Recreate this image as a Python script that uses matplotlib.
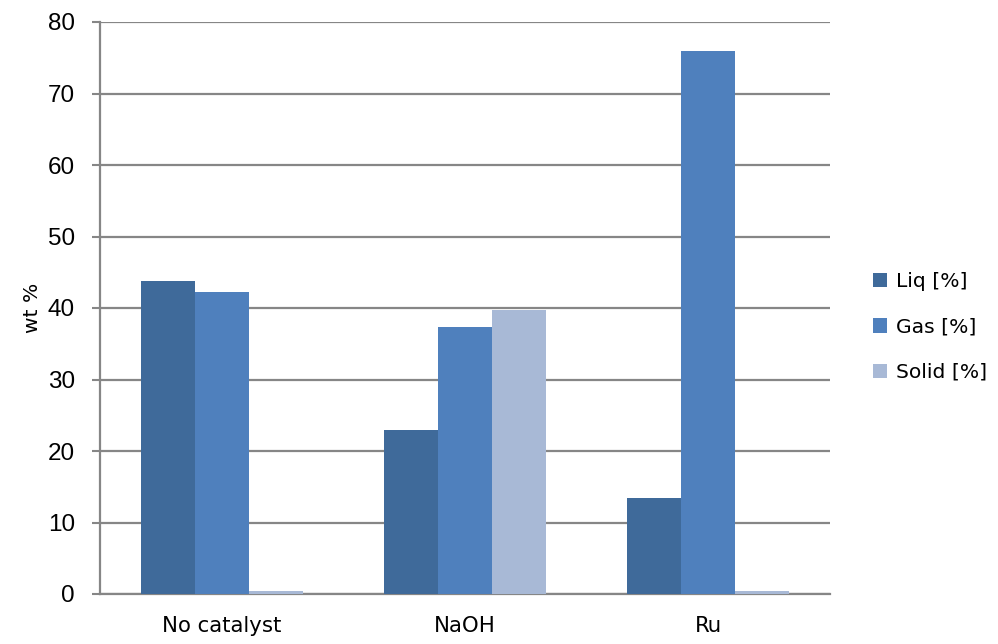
import matplotlib
matplotlib.use("Agg")
import matplotlib.pyplot as plt
import numpy as np

categories = ["No catalyst", "NaOH", "Ru"]
series_names = ["Liq [%]", "Gas [%]", "Solid [%]"]
liq = [43.8, 22.9, 13.4]
gas = [42.2, 37.3, 76.0]
solid = [0.4, 39.7, 0.4]
y_ticks = [0, 10, 20, 30, 40, 50, 60, 70, 80]

colors = ["#3F6A9A", "#4F80BD", "#A8B9D6"]
grid_color = "#868686"

narrow = ["Liberation Sans Narrow", "Liberation Sans", "DejaVu Sans"]
body = ["DejaVu Sans"]

fig = plt.figure(figsize=(9.98, 6.44), dpi=100)
ax = fig.add_axes([100 / 998, 50 / 644, 730 / 998, 572 / 644])

x = np.arange(len(categories))
width = 0.222
for i, (vals, name) in enumerate(zip([liq, gas, solid], series_names)):
    ax.bar(x + (i - 1) * width, vals, width, color=colors[i], label=name,
           zorder=3, linewidth=0)

ax.set_xlim(-0.5, len(categories) - 0.5)
ax.set_ylim(0, 80)
ax.set_yticks(y_ticks)
ax.set_yticklabels([str(t) for t in y_ticks], family=narrow, fontsize=17.5)
ax.set_xticks(x)
ax.set_xticklabels(categories, family=body, fontsize=15.3)
ax.tick_params(axis="x", length=0, pad=16)
ax.tick_params(axis="y", length=6, width=1.5, color=grid_color, pad=12)

ax.yaxis.grid(True, color=grid_color, linewidth=1.6, zorder=0)
ax.set_axisbelow(True)
for side in ["top", "right"]:
    ax.spines[side].set_visible(False)
ax.spines["left"].set_color(grid_color)
ax.spines["left"].set_linewidth(1.6)
ax.spines["bottom"].set_color(grid_color)
ax.spines["bottom"].set_linewidth(1.6)

ax.set_ylabel("wt %", family=body, fontsize=14.6, labelpad=4)

fig.legend(loc="center left", bbox_to_anchor=(873 / 998, 1 - 327 / 644),
           frameon=False, prop={"family": body, "size": 14.6},
           handlelength=0.7, handleheight=0.7, handletextpad=0.45,
           labelspacing=1.3, borderpad=0, borderaxespad=0)

fig.savefig("out.png", dpi=100)
